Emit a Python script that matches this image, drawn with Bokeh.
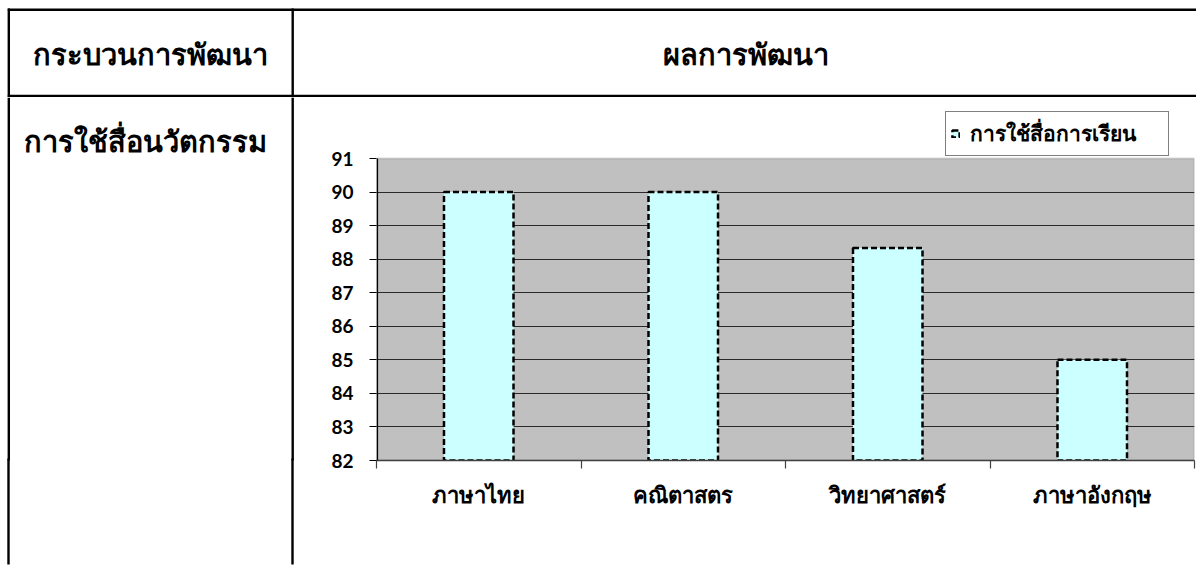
from bokeh.plotting import figure
from bokeh.layouts import column, row
from bokeh.models import (Range1d, FixedTicker, Legend, LegendItem, BoxAnnotation, LinearAxis)
from bokeh.core.properties import value
from bokeh.embed import file_html
from bokeh.resources import INLINE

# ---- data ----
header_left = "กระบวนการพัฒนา"
header_right = "ผลการพัฒนา"
row_label = "การใช้สื่อนวัตกรรม"
series_name = "การใช้สื่อการเรียน"
categories = ["ภาษาไทย", "คณิตาสตร", "วิทยาศาสตร์", "ภาษาอังกฤษ"]
values = [90, 90, 88.33, 85]
y_ticks = [82, 83, 84, 85, 86, 87, 88, 89, 90, 91]

THAI_FONT = "Noto Sans"
NUM_FONT = "Lato"

# ---- page geometry (pixels) ----
W = 1196
TOP_H = 97                 # header-row figure height
H = 566
SPLIT = 296                # width of the left cell figure
COL_X = 292.2              # column divider
LEFT_X = 8.3               # left table border
RULE_W = 2.4
FL, FR = 376, 1194         # chart frame left/right
FB = 460                   # chart frame bottom
Y91_PX = 158               # pixel row of the top tick


def plain(width, height, xr, yr, **kw):
    f = figure(width=width, height=height, output_backend="svg", toolbar_location=None,
               x_range=xr, y_range=yr, x_axis_location=None, y_axis_location=None, **kw)
    f.outline_line_color = None
    f.xgrid.visible = False
    f.ygrid.visible = False
    f.background_fill_color = "white"
    f.border_fill_color = "white"
    return f


# =============== header row ===============
top = plain(W, TOP_H, Range1d(0, W), Range1d(TOP_H, 0), min_border=0)
top.segment(x0=[LEFT_X - 1, LEFT_X - 1, LEFT_X, COL_X],
            y0=[9.2, 95.5, 8, 8],
            x1=[W, W, LEFT_X, COL_X],
            y1=[9.2, 95.5, TOP_H, TOP_H],
            line_color="black", line_width=RULE_W)
top.text(x=[150, 745], y=[53, 53], text=[header_left, header_right],
         text_font=value(THAI_FONT), text_font_size="29px", text_font_style="bold",
         text_align="center", text_baseline="middle", text_color="black")

# =============== body row: left cell ===============
CH = H - TOP_H
left = plain(SPLIT, CH, Range1d(0, SPLIT), Range1d(FB, TOP_H),
             min_border_left=0, min_border_right=0, min_border_top=0,
             min_border_bottom=H - FB)
left.segment(x0=[LEFT_X, COL_X], y0=[TOP_H, TOP_H], x1=[LEFT_X, COL_X], y1=[FB + 2, FB + 2],
             line_color="black", line_width=RULE_W)
left.text(x=[145], y=[140], text=[row_label], text_font=value(THAI_FONT),
          text_font_size="29px", text_font_style="bold", text_align="center",
          text_baseline="middle", text_color="black")
# the rules continue below the frame as long axis ticks
rules_axis = LinearAxis(ticker=FixedTicker(ticks=[LEFT_X, COL_X]),
                        major_label_overrides={LEFT_X: "", COL_X: ""},
                        major_label_text_font_size="0px", major_label_standoff=0,
                        axis_line_color=None, minor_tick_line_color=None,
                        major_tick_in=2, major_tick_out=H - FB - 2,
                        major_tick_line_color="black", major_tick_line_width=RULE_W)
left.add_layout(rules_axis, "below")

# =============== body row: chart ===============
ppu = (FB - Y91_PX) / (y_ticks[-1] - y_ticks[0])          # pixels per unit
y_top = y_ticks[-1] + (Y91_PX - TOP_H) / ppu
xs = [i + 0.5 for i in range(len(categories))]

p = figure(width=W - SPLIT, height=CH, output_backend="svg", toolbar_location=None,
           x_range=Range1d(0, len(categories)), y_range=Range1d(y_ticks[0], y_top),
           min_border_left=FL - SPLIT, min_border_right=W - FR,
           min_border_top=0, min_border_bottom=H - FB)
p.background_fill_color = "white"
p.border_fill_color = "white"
p.outline_line_color = None
p.xgrid.visible = False
p.ygrid.ticker = FixedTicker(ticks=y_ticks[1:-1])
p.ygrid.grid_line_color = "#2a2a2a"
p.ygrid.grid_line_width = 1.2

# plot area (grey) between the lowest and highest tick
p.add_layout(BoxAnnotation(bottom=y_ticks[0], top=y_ticks[-1], fill_color="#C0C0C0",
                           fill_alpha=1, line_color="#808080", line_width=2, level="image"))
# value-axis line only over the plot area
p.add_layout(BoxAnnotation(left=0, right=1.6, left_units="screen", right_units="screen",
                           bottom=y_ticks[0], top=y_ticks[-1], fill_color="black",
                           fill_alpha=1, line_color=None, level="overlay"))

bars = p.vbar(x=xs, top=values, bottom=y_ticks[0], width=0.34,
              fill_color="#CCFFFF", line_color="black", line_width=2.5, line_dash="6 3")

ya = p.yaxis[0]
ya.ticker = FixedTicker(ticks=y_ticks)
ya.axis_line_color = None
ya.major_tick_in = 0
ya.major_tick_out = 7
ya.major_tick_line_color = "black"
ya.major_tick_line_width = 1.2
ya.minor_tick_line_color = None
ya.major_label_standoff = 16
ya.major_label_text_font = NUM_FONT
ya.major_label_text_font_size = "19px"
ya.major_label_text_font_style = "bold"
ya.major_label_text_color = "black"

xa = p.xaxis[0]
xa.ticker = FixedTicker(ticks=xs, minor_ticks=list(range(len(categories) + 1)))
xa.major_label_overrides = {x: c for x, c in zip(xs, categories)}
xa.axis_line_color = "#404040"
xa.axis_line_width = 1.5
xa.major_tick_line_color = None
xa.major_tick_in = 0
xa.major_tick_out = 8
xa.minor_tick_line_color = "#404040"
xa.minor_tick_line_width = 1.2
xa.minor_tick_in = 0
xa.minor_tick_out = 8
xa.major_label_standoff = 10
xa.major_label_text_font = THAI_FONT
xa.major_label_text_font_size = "22px"
xa.major_label_text_font_style = "bold"
xa.major_label_text_color = "black"

legend = Legend(items=[LegendItem(label=series_name, renderers=[bars])],
                location=(945 - FL, FB - 156), glyph_width=9, glyph_height=9, padding=5,
                label_standoff=10, label_width=193, margin=0,
                border_line_color="black", border_line_width=1,
                background_fill_color="white", background_fill_alpha=1,
                label_text_font=THAI_FONT, label_text_font_size="21px",
                label_text_font_style="bold", label_text_color="black")
p.add_layout(legend)

layout = column(top, row(left, p))
open("out.html", "w").write(file_html(layout, INLINE))
